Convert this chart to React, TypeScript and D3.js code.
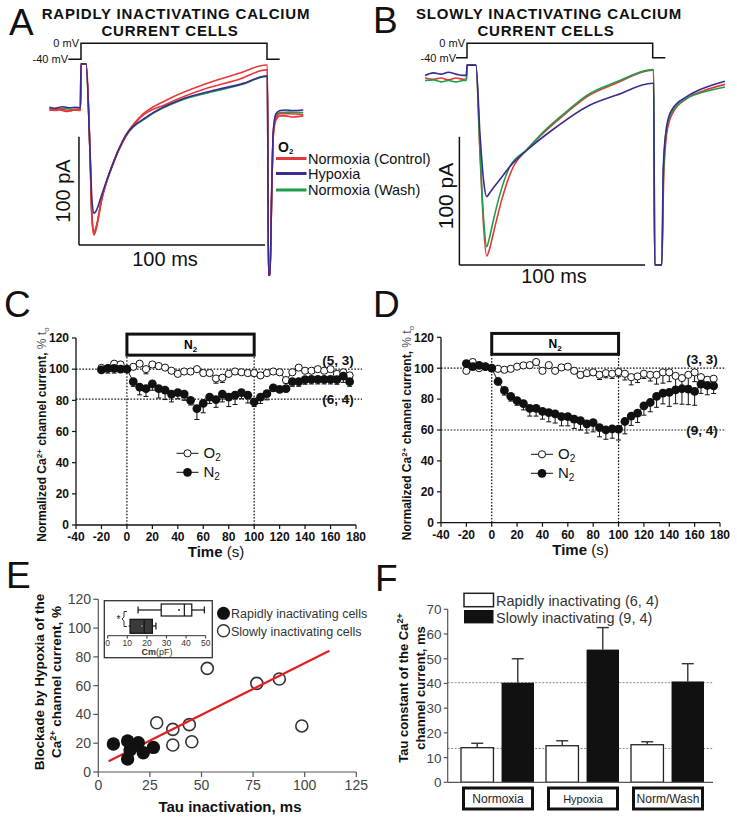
import React from 'react';
import * as d3 from 'd3';

const FONT = "'Liberation Sans', Arial, Helvetica, sans-serif";
const RED = '#e5383b';
const BLUE = '#3a2c8e';
const GREEN = '#1e9e4b';

// ---------- Panels A / B : voltage protocol (ms, mV) ----------
const protoA: [number, number][] = [[-6.8, -40], [0, -40], [0, 0], [100, 0], [100, -40], [106.8, -40]];
const protoB: [number, number][] = [[-5.9, -40], [0, -40], [0, 0], [100, 0], [100, -40], [106.8, -40]];

// ---------- Panel A traces (ms, pA) ----------
const traceA_red: [number, number][] = [[-17, -1], [-14, -2], [-10, -1], [-6, -2.5], [-3, -1], [-0.3, -1.5], [0, 41], [2.7, 41], [4.8, -38], [5.9, -103], [7, -117], [8.1, -112], [11.1, -85], [16.5, -54], [23.7, -26], [31.7, -8], [46.1, 7.7], [67.6, 23], [85.5, 32.6], [99.5, 40], [100.2, 40], [100.8, -154], [101.6, -154], [102.5, -82], [103.4, -25], [104.8, -11], [107, -7], [110, -7], [114, -8], [119.5, -7]];
const traceA_red2: [number, number][] = [[-17, -2], [-12, -1], [-8, -3], [-4, -1.5], [-0.3, -2], [0, 41], [2.7, 41], [4.8, -38], [5.9, -101], [7, -115], [8.1, -110], [11.1, -84], [16.5, -54], [23.7, -27], [31.7, -9], [46.1, 4], [67.6, 18.5], [85.5, 27], [99.5, 35.5], [100.2, 35.5], [100.8, -154], [101.6, -154], [102.5, -82], [103.4, -24], [104.8, -9], [107, -5], [112, -5], [119.5, -6]];
const traceA_green: [number, number][] = [[-17, 0], [-13, -1], [-9, 0], [-5, -1], [-0.3, -0.5], [0, 41], [2.7, 41], [4.8, -38], [5.9, -100], [7, -114], [8.1, -110], [11.1, -84], [16.5, -55], [23.7, -27], [35.3, -8.5], [53.2, 7], [70, 15], [87.3, 22.5], [99.5, 29.5], [100.2, 29.5], [100.8, -154], [101.6, -154], [102.5, -80], [103.4, -22], [104.8, -7], [107, -4], [112, -3.5], [119.5, -4]];
const traceA_blue: [number, number][] = [[-17, 1], [-14, 0], [-10, 1.5], [-6, 0.5], [-3, 1], [-0.3, 0.5], [0, 41], [2.7, 41], [4.8, -38], [5.9, -85], [7, -97], [8.1, -95], [11.1, -80], [16.5, -54], [23.7, -26], [35.3, -8], [53.2, 7.7], [70, 16], [87.3, 23], [99.5, 29.7], [100.2, 29.7], [100.8, -154], [101.6, -154], [102.5, -78], [103.4, -20], [104.8, -5], [107, -2], [110, -1.5], [114, -2], [119.5, -1.5]];

// ---------- Panel B traces (ms, pA) ----------
const traceB_red: [number, number][] = [[-22.6, -1], [-18, -2], [-14, -1], [-10, -2.5], [-6, -1], [-2, -2], [-0.3, -1.5], [0, 9], [4.8, 9], [7, -60], [9, -118], [10.6, -140], [12, -135], [14.2, -122], [18.7, -96], [25, -70], [32.1, -57], [41.1, -44], [53.7, -28], [64.5, -15.6], [80.6, -5], [100, 5], [100.5, 5], [101.1, -146.7], [104.9, -146.7], [105.9, -80], [107.5, -45], [110.2, -30], [118.3, -17], [127.3, -11], [138.9, -6]];
const traceB_green: [number, number][] = [[-22.6, -3], [-18, -2.5], [-14, -4], [-10, -3], [-6, -4], [-2, -3], [-0.3, -3], [0, 9], [4.8, 9], [7, -58], [9, -112], [10.6, -132.5], [12, -126], [14.2, -112], [16.9, -96], [23.1, -70], [32.1, -57], [41.1, -43], [53.7, -27], [64.5, -14.5], [80.6, -4], [100, 5.5], [100.5, 5.5], [101.1, -146.7], [104.9, -146.7], [105.8, -74], [107.5, -40], [110.2, -28], [118.3, -17], [127.3, -12], [138.9, -8]];
const traceB_blue: [number, number][] = [[-22.6, 1], [-18, 3], [-14, 2], [-10, 3.5], [-6, 2], [-2, 1], [-0.3, 1], [0, 9], [4.8, 9], [7, -45], [9, -82], [10.6, -93.5], [12, -91], [14, -87], [17.8, -80], [23.1, -70], [32.1, -57.5], [48.3, -39], [64.5, -23.4], [80.6, -14.3], [100, -5.1], [100.5, -5.1], [101.1, -146.7], [104.9, -146.7], [105.7, -70], [107.5, -39], [110.2, -26], [118.3, -15.6], [127.3, -9], [138.9, -3.5]];

// ---------- Panels C / D : time courses ----------
const timeS = [-20, -15, -10, -5, 0, 5, 10, 15, 20, 25, 30, 35, 40, 45, 50, 55, 60, 65, 70, 75, 80, 85, 90, 95, 100, 105, 110, 115, 120, 125, 130, 135, 140, 145, 150, 155, 160, 165, 170, 175];
const cO2 = [100.8, 100.5, 103.5, 103, 100, 101.5, 103.5, 100, 103, 102, 101, 99, 97, 98.5, 98.5, 100, 97.5, 97.5, 94, 94.5, 97, 98.5, 98, 97.5, 97.5, 96, 97.5, 98.5, 98, 93, 98, 101, 99, 99, 100, 99, 100, 97, 98, 96];
const cO2err = [1, 1, 1, 1, 1, 1, 1, 3, 1, 1, 1, 1, 1, 1, 1, 1, 1, 1, 3, 3, 1, 1, 1, 1, 2, 1, 1, 1, 1, 2, 1, 1, 1, 1, 1, 1, 1, 2, 2, 2];
const cN2 = [99.5, 100.5, 100.5, 100, 100, 92, 88.5, 87.5, 90.5, 87.5, 86.5, 84, 85, 84, 80, 74.7, 78, 82, 80.5, 84, 82, 83.3, 85, 83.3, 79, 82, 84.3, 88, 87, 87.5, 92, 92, 93.3, 93.5, 93.5, 93.5, 93.5, 93.3, 95.5, 92];
const cN2err = [1, 3, 3, 2, 1, 3, 5, 5, 4, 6, 6, 5, 4, 4, 3, 7, 6, 4, 5, 5, 6, 6, 4, 5, 3, 4, 4, 2, 2, 2, 3, 3, 3, 3, 3, 3, 3, 3, 4, 3];
const cRefs = [100, 80.8];
const cRefLabels = ['(5, 3)', '(6, 4)'];

const dO2 = [98.3, 104, 100, 101, 100, 99.6, 99, 99.6, 101, 101.8, 102, 104, 98.3, 102, 98.3, 100.5, 101, 98.3, 95.7, 96.8, 97.3, 95.7, 96.8, 96.4, 97.5, 96.4, 94.2, 94.7, 96.4, 95.7, 95.7, 97.3, 97.3, 95, 93.6, 95.7, 97.3, 94.2, 92.5, 93.2];
const dO2err = [1, 1, 1, 1, 1, 1, 1, 1, 1, 1, 1, 1, 1, 1, 1, 1, 1, 1, 2, 2, 2, 3, 3, 3, 3, 4, 5, 4, 3, 4, 6, 7, 6, 7, 8, 7, 6, 5, 4, 3];
const dN2 = [103, 101, 101.8, 101, 100, 91.4, 85.6, 81.7, 79, 77, 74, 74, 72, 71.3, 70.5, 68.7, 68.7, 67, 66, 64, 64.8, 61.6, 60, 60.7, 60.5, 65.5, 69, 70.9, 75.6, 77.8, 81.7, 83.9, 84.3, 86, 86.7, 86.4, 85, 89.7, 88.8, 88.6];
const dN2err = [1, 1, 1, 1, 1, 2, 3, 3, 3, 4, 5, 5, 5, 6, 6, 6, 6, 6, 6, 6, 6, 6, 6, 6, 7, 8, 6, 6, 6, 6, 7, 7, 9, 9, 10, 10, 9, 6, 6, 5];
const dRefs = [100, 60];
const dRefLabels = ['(3, 3)', '(9, 4)'];

const timeTicks = [-40, -20, 0, 20, 40, 60, 80, 100, 120, 140, 160, 180];
const pctTicks = [0, 20, 40, 60, 80, 100, 120];

// ---------- Panel E ----------
const rapidTau = [7.3, 14.2, 19.4, 15.4, 14.2, 21.8, 26.7, 17];
const rapidBlock = [19.5, 21.5, 20.4, 15.3, 9, 13.4, 17.1, 18];
const slowTau = [28.3, 36.1, 44.1, 36.1, 45.3, 98.6, 52.8, 76.8, 87.7];
const slowBlock = [34.2, 29.6, 32.9, 18.75, 21, 32, 72, 61.6, 64.6];
const fitTau = [5, 112];
const fitBlock = [7.4, 84.2];
const eXTicks = [0, 25, 50, 75, 100, 125];
const eYTicks = [0, 20, 40, 60, 80, 100, 120];
const cmSlow = [15.5, 27.3, 39.1, 42.9, 49.3]; // min q1 med q3 max
const cmRapid = [10.7, 11.4, 18.6, 22.8, 24.6];
const cmMeans = [36.4, 17.5];
const cmTicks = [0, 10, 20, 30, 40, 50];

// ---------- Panel F ----------
const fCats = ['Normoxia', 'Hypoxia', 'Norm/Wash'];
const fRapid = [14, 14.8, 15.2];
const fRapidErr = [1.8, 2, 1.2];
const fSlow = [40.3, 53.7, 40.8];
const fSlowErr = [9.7, 8.9, 7.2];
const fRefs = [40.3, 13.7];
const fTicks = [0, 10, 20, 30, 40, 50, 60, 70];

function Trace({ data, x, y, color, w = 1.6 }: any) {
  const line = d3.line<[number, number]>().x(d => x(d[0])).y(d => y(d[1])).curve(d3.curveMonotoneX);
  return <path d={line(data) || ''} fill="none" stroke={color} strokeWidth={w} strokeLinejoin="round" />;
}

function Protocol({ data, x, v }: any) {
  const line = d3.line<[number, number]>().x(d => x(d[0])).y(d => v(d[1]));
  return <path d={line(data) || ''} fill="none" stroke="#111" strokeWidth={1.5} />;
}

function TimeCourse({ x, y, o2, o2e, n2, n2e, refs, refLabels, legX, legY, yLabelX }: any) {
  const [x0, x1] = x.range();
  const [yb] = y.range();
  const lineO = d3.line<number>().x((_, i) => x(timeS[i])).y(d => y(d));
  const refEnd = x1 + 6;
  const labelX = x1 - 18;
  return (
    <g fontFamily={FONT}>
      {refs.map((r: number, i: number) => (
        <line key={'r' + i} x1={x0} x2={refEnd} y1={y(r)} y2={y(r)} stroke="#111" strokeWidth={1.2} strokeDasharray="1.6,1.6" />
      ))}
      {[0, 100].map(t => (
        <line key={'v' + t} x1={x(t)} x2={x(t)} y1={yb} y2={y(109)} stroke="#111" strokeWidth={1.2} strokeDasharray="1.6,1.6" />
      ))}
      <rect x={x(0)} y={y(122.5)} width={x(100) - x(0)} height={y(109) - y(122.5)} fill="white" stroke="#111" strokeWidth={3} />
      <text x={(x(0) + x(100)) / 2} y={y(115.75) + 4} textAnchor="middle" fontSize={12} fontWeight="bold">N<tspan fontSize={8} dy={3}>2</tspan></text>
      {refLabels.map((s: string, i: number) => (
        <text key={'rl' + i} x={labelX} y={y(refs[i]) + (i === 0 ? -4 : 5)} textAnchor="middle" fontSize={13.5} fontWeight="bold" fill="#111">{s}</text>
      ))}
      <line x1={x0} x2={x1} y1={yb} y2={yb} stroke="#111" strokeWidth={1.3} />
      <line x1={x0} x2={x0} y1={yb} y2={y(120)} stroke="#111" strokeWidth={1.3} />
      {timeTicks.map(t => (
        <g key={'xt' + t}>
          <line x1={x(t)} x2={x(t)} y1={yb} y2={yb + 4} stroke="#111" strokeWidth={1.2} />
          <text x={x(t)} y={yb + 16} textAnchor="middle" fontSize={12} fontWeight="bold" fill="#111">{t}</text>
        </g>
      ))}
      {pctTicks.map(t => (
        <g key={'yt' + t}>
          <line x1={x0 - 4} x2={x0} y1={y(t)} y2={y(t)} stroke="#111" strokeWidth={1.2} />
          <text x={x0 - 7} y={y(t) + 4.3} textAnchor="end" fontSize={12} fontWeight="bold" fill="#111">{t}</text>
        </g>
      ))}
      <text x={(x0 + x1) / 2} y={yb + 32} textAnchor="middle" fontSize={15} fill="#111"><tspan fontWeight="bold">Time</tspan> (s)</text>
      <text transform={`translate(${yLabelX},${(y(0) + y(120)) / 2 + 3}) rotate(-90)`} textAnchor="middle" fontSize={12} fill="#111">
        <tspan fontWeight="bold">Normalized Ca</tspan><tspan fontWeight="bold" fontSize={8} dy={-4}>2+</tspan><tspan fontWeight="bold" dy={4}> channel  current, </tspan><tspan fill="#555">% t</tspan><tspan fill="#555" fontSize={8} dy={3}>o</tspan>
      </text>
      <path d={lineO(o2) || ''} fill="none" stroke="#111" strokeWidth={1} />
      {o2.map((v: number, i: number) => (
        <g key={'oe' + i}>
          <line x1={x(timeS[i])} x2={x(timeS[i])} y1={y(v)} y2={y(v - o2e[i])} stroke="#111" strokeWidth={1} />
          <line x1={x(timeS[i]) - 2.5} x2={x(timeS[i]) + 2.5} y1={y(v - o2e[i])} y2={y(v - o2e[i])} stroke="#111" strokeWidth={1} />
        </g>
      ))}
      <path d={lineO(n2) || ''} fill="none" stroke="#111" strokeWidth={1} />
      {n2.map((v: number, i: number) => (
        <g key={'ne' + i}>
          <line x1={x(timeS[i])} x2={x(timeS[i])} y1={y(v)} y2={y(v - n2e[i])} stroke="#111" strokeWidth={1} />
          <line x1={x(timeS[i]) - 2.5} x2={x(timeS[i]) + 2.5} y1={y(v - n2e[i])} y2={y(v - n2e[i])} stroke="#111" strokeWidth={1} />
        </g>
      ))}
      {o2.map((v: number, i: number) => (
        <circle key={'oc' + i} cx={x(timeS[i])} cy={y(v)} r={3.6} fill="white" stroke="#111" strokeWidth={1} />
      ))}
      {n2.map((v: number, i: number) => (
        <circle key={'nc' + i} cx={x(timeS[i])} cy={y(v)} r={4.4} fill="#111" />
      ))}
      <line x1={legX} x2={legX + 22} y1={legY} y2={legY} stroke="#111" strokeWidth={1} />
      <circle cx={legX + 11} cy={legY} r={3.6} fill="white" stroke="#111" />
      <text x={legX + 27} y={legY + 5} fontSize={15} fill="#111">O<tspan fontSize={10} dy={3}>2</tspan></text>
      <line x1={legX} x2={legX + 22} y1={legY + 19} y2={legY + 19} stroke="#111" strokeWidth={1} />
      <circle cx={legX + 11} cy={legY + 19} r={4.4} fill="#111" />
      <text x={legX + 27} y={legY + 24} fontSize={15} fill="#111">N<tspan fontSize={10} dy={3}>2</tspan></text>
    </g>
  );
}

export default function App() {
  const xA = d3.scaleLinear().domain([0, 100]).range([81, 267]);
  const yA = d3.scaleLinear().domain([0, -100]).range([108.3, 216.6]);
  const vA = d3.scaleLinear().domain([-40, 0]).range([59.3, 43.3]);
  const xB = d3.scaleLinear().domain([0, 100]).range([467, 652.7]);
  const yB = d3.scaleLinear().domain([0, -100]).range([76.7, 205]);
  const vB = d3.scaleLinear().domain([-40, 0]).range([57.7, 43.3]);

  const xC = d3.scaleLinear().domain([-40, 180]).range([76, 356]);
  const yC = d3.scaleLinear().domain([0, 120]).range([525, 338]);
  const xD = d3.scaleLinear().domain([-40, 180]).range([441, 720]);
  const yD = d3.scaleLinear().domain([0, 120]).range([522.7, 337.3]);

  const xE = d3.scaleLinear().domain([0, 125]).range([98.3, 356.3]);
  const yE = d3.scaleLinear().domain([0, 120]).range([772, 599.3]);
  const xIn = d3.scaleLinear().domain([0, 50]).range([107.7, 205.7]);

  const yF = d3.scaleLinear().domain([0, 70]).range([782.3, 609.3]);
  const xF = d3.scaleBand<string>().domain(fCats).range([455, 710]);
  const xFi = d3.scaleBand<string>().domain(['rapid', 'slow']).range([0, 73]).paddingInner(0.2);
  const fOff = (xF.bandwidth() - 73) / 2;

  const axisGray = '#555';

  return (
    <svg width={737} height={819} viewBox="0 0 737 819" style={{ position: 'absolute', left: 0, top: 0, background: 'white' }} fontFamily={FONT}>
      <rect width={737} height={819} fill="white" />

      <text x={9} y={35} fontSize={37} fill="#111">A</text>
      <text x={373} y={33} fontSize={37} fill="#111">B</text>
      <text x={4} y={317} fontSize={37} fill="#111">C</text>
      <text x={373} y={317} fontSize={37} fill="#111">D</text>
      <text x={6} y={588} fontSize={37} fill="#111">E</text>
      <text x={375} y={591} fontSize={37} fill="#111">F</text>

      <text x={176} y={18.5} textAnchor="middle" fontSize={15} letterSpacing={0.8} fontWeight="bold" fill="#111">RAPIDLY INACTIVATING CALCIUM</text>
      <text x={170} y={35.5} textAnchor="middle" fontSize={15} letterSpacing={0.8} fontWeight="bold" fill="#111">CURRENT CELLS</text>
      <text x={549} y={18.5} textAnchor="middle" fontSize={15} letterSpacing={0.8} fontWeight="bold" fill="#111">SLOWLY INACTIVATING CALCIUM</text>
      <text x={546} y={35.5} textAnchor="middle" fontSize={15} letterSpacing={0.8} fontWeight="bold" fill="#111">CURRENT CELLS</text>

      {/* Panel A */}
      <Protocol data={protoA} x={xA} v={vA} />
      <text x={79} y={47} textAnchor="end" fontSize={11} fill="#111">0 mV</text>
      <text x={68} y={63} textAnchor="end" fontSize={11} fill="#111">-40 mV</text>
      <Trace data={traceA_green} x={xA} y={yA} color={GREEN} />
      <Trace data={traceA_red2} x={xA} y={yA} color={RED} />
      <Trace data={traceA_red} x={xA} y={yA} color={RED} />
      <Trace data={traceA_blue} x={xA} y={yA} color={BLUE} />
      <line x1={xA(-1.1)} x2={xA(-1.1)} y1={yA(-26.2)} y2={yA(-126.2)} stroke="#111" strokeWidth={1.5} />
      <line x1={xA(-1.1)} x2={xA(98.9)} y1={yA(-126.2)} y2={yA(-126.2)} stroke="#111" strokeWidth={1.5} />
      <text transform={`translate(70,191) rotate(-90)`} textAnchor="middle" fontSize={20} fill="#111">100 pA</text>
      <text x={165} y={266} textAnchor="middle" fontSize={20} fill="#111">100 ms</text>
      <text x={278} y={151.5} fontSize={14} fontWeight="bold" fill="#111">O<tspan fontSize={8} dy={2}>2</tspan></text>
      {[[RED, 'Normoxia (Control)', 158.5], [BLUE, 'Hypoxia', 173.5], [GREEN, 'Normoxia (Wash)', 190]].map(([c, s, yy]: any) => (
        <g key={s}>
          <line x1={276} x2={306.5} y1={yy} y2={yy} stroke={c} strokeWidth={3} />
          <text x={308} y={yy + 5} fontSize={14.5} fill="#111">{s}</text>
        </g>
      ))}

      {/* Panel B */}
      <Protocol data={protoB} x={xB} v={vB} />
      <text x={465} y={47} textAnchor="end" fontSize={11} fill="#111">0 mV</text>
      <text x={456} y={61.5} textAnchor="end" fontSize={11} fill="#111">-40 mV</text>
      <Trace data={traceB_red} x={xB} y={yB} color={RED} />
      <Trace data={traceB_green} x={xB} y={yB} color={GREEN} />
      <Trace data={traceB_blue} x={xB} y={yB} color={BLUE} />
      <line x1={xB(-4.1)} x2={xB(-4.1)} y1={yB(-46.8)} y2={yB(-146.8)} stroke="#111" strokeWidth={1.5} />
      <line x1={xB(-4.1)} x2={xB(95.9)} y1={yB(-146.8)} y2={yB(-146.8)} stroke="#111" strokeWidth={1.5} />
      <text transform={`translate(453,196) rotate(-90)`} textAnchor="middle" fontSize={21} fill="#111">100 pA</text>
      <text x={554} y={283} textAnchor="middle" fontSize={20} fill="#111">100 ms</text>

      {/* Panels C / D */}
      <TimeCourse x={xC} y={yC} o2={cO2} o2e={cO2err} n2={cN2} n2e={cN2err} refs={cRefs} refLabels={cRefLabels} legX={176.5} legY={453.3} yLabelX={46} />
      <TimeCourse x={xD} y={yD} o2={dO2} o2e={dO2err} n2={dN2} n2e={dN2err} refs={dRefs} refLabels={dRefLabels} legX={531} legY={454.3} yLabelX={411} />

      {/* Panel E */}
      <g>
        <line x1={98.3} x2={356.3} y1={772} y2={772} stroke={axisGray} strokeWidth={1.2} />
        <line x1={98.3} x2={98.3} y1={772} y2={599.3} stroke={axisGray} strokeWidth={1.2} />
        {eXTicks.map(t => (
          <g key={'ex' + t}>
            <line x1={xE(t)} x2={xE(t)} y1={772} y2={777} stroke={axisGray} strokeWidth={1.2} />
            <text x={xE(t)} y={790} textAnchor="middle" fontSize={14} fill="#444">{t}</text>
          </g>
        ))}
        {eYTicks.map(t => (
          <g key={'ey' + t}>
            <line x1={93.3} x2={98.3} y1={yE(t)} y2={yE(t)} stroke={axisGray} strokeWidth={1.2} />
            <text x={91} y={yE(t) + 5} textAnchor="end" fontSize={14} fill="#444">{t}</text>
          </g>
        ))}
        <text x={230} y={812} textAnchor="middle" fontSize={15} fontWeight="bold" fill="#111">Tau inactivation, ms</text>
        <text transform="translate(44,682) rotate(-90)" textAnchor="middle" fontSize={13.5} fontWeight="bold" fill="#111">Blockade by Hypoxia of the</text>
        <text transform="translate(61,682) rotate(-90)" textAnchor="middle" fontSize={13.5} fontWeight="bold" fill="#111">Ca<tspan fontSize={9} dy={-5}>2+</tspan><tspan dy={5}> channel current, %</tspan></text>
        {slowTau.map((t, i) => (
          <circle key={'s' + i} cx={xE(t)} cy={yE(slowBlock[i])} r={6} fill="white" stroke="#333" strokeWidth={1.6} />
        ))}
        <line x1={xE(fitTau[0])} x2={xE(fitTau[1])} y1={yE(fitBlock[0])} y2={yE(fitBlock[1])} stroke="#e3201e" strokeWidth={2.2} />
        {rapidTau.map((t, i) => (
          <circle key={'f' + i} cx={xE(t)} cy={yE(rapidBlock[i])} r={6.7} fill="#111" />
        ))}
        <circle cx={223.5} cy={613.3} r={6.5} fill="#111" />
        <text x={231} y={618} fontSize={12.5} fill="#333">Rapidly inactivating cells</text>
        <circle cx={223.5} cy={630.7} r={6} fill="white" stroke="#333" strokeWidth={1.4} />
        <text x={231} y={635.5} fontSize={12.5} fill="#333">Slowly inactivating cells</text>
        <rect x={104.3} y={600.7} width={108} height={57} fill="white" stroke="#333" strokeWidth={1.3} />
        <line x1={xIn(0)} x2={xIn(50)} y1={635.7} y2={635.7} stroke="#333" strokeWidth={1} />
        {cmTicks.map(t => (
          <g key={'ct' + t}>
            <line x1={xIn(t)} x2={xIn(t)} y1={635.7} y2={638.5} stroke="#333" strokeWidth={1} />
            <text x={xIn(t)} y={645.5} textAnchor="middle" fontSize={8.5} fill="#333">{t}</text>
          </g>
        ))}
        <text x={157} y={654.5} textAnchor="middle" fontSize={9} fill="#333"><tspan fontWeight="bold">Cm</tspan>(pF)</text>
        <line x1={xIn(cmSlow[0])} x2={xIn(cmSlow[1])} y1={610} y2={610} stroke="#111" strokeWidth={1.2} />
        <line x1={xIn(cmSlow[3])} x2={xIn(cmSlow[4])} y1={610} y2={610} stroke="#111" strokeWidth={1.2} />
        <line x1={xIn(cmSlow[0])} x2={xIn(cmSlow[0])} y1={606.5} y2={613.5} stroke="#111" strokeWidth={1.2} />
        <line x1={xIn(cmSlow[4])} x2={xIn(cmSlow[4])} y1={606.5} y2={613.5} stroke="#111" strokeWidth={1.2} />
        <rect x={xIn(cmSlow[1])} y={604} width={xIn(cmSlow[3]) - xIn(cmSlow[1])} height={12} fill="white" stroke="#111" strokeWidth={1.2} />
        <line x1={xIn(cmSlow[2])} x2={xIn(cmSlow[2])} y1={604} y2={616} stroke="#111" strokeWidth={1.2} />
        <circle cx={xIn(cmMeans[0])} cy={610} r={0.9} fill="#111" />
        <line x1={xIn(cmRapid[0])} x2={xIn(cmRapid[4])} y1={626} y2={626} stroke="#111" strokeWidth={1.2} />
        <line x1={xIn(cmRapid[4])} x2={xIn(cmRapid[4])} y1={622.5} y2={629.5} stroke="#111" strokeWidth={1.2} />
        <rect x={xIn(cmRapid[1])} y={619.3} width={xIn(cmRapid[3]) - xIn(cmRapid[1])} height={14} fill="#3a3a3a" stroke="#111" strokeWidth={1.2} />
        <line x1={xIn(cmRapid[2])} x2={xIn(cmRapid[2])} y1={619.3} y2={633.3} stroke="#111" strokeWidth={1.2} />
        <circle cx={xIn(cmMeans[1])} cy={626} r={0.9} fill="#888" />
        <path d="M127,611.5 L124,611.5 L124,617 L122,619 L124,621 L124,626.5 L127,626.5" fill="none" stroke="#333" strokeWidth={1} />
        <text x={118.5} y={622.5} textAnchor="middle" fontSize={10} fill="#111">*</text>
      </g>

      {/* Panel F */}
      <g>
        {fRefs.map((r, i) => (
          <line key={'fr' + i} x1={447.7} x2={713} y1={yF(r)} y2={yF(r)} stroke="#888" strokeWidth={1} strokeDasharray="2,1.5" />
        ))}
        {fCats.map((c, i) => {
          const gx = (xF(c) || 0) + fOff;
          const rx = gx + (xFi('rapid') || 0);
          const sx = gx + (xFi('slow') || 0);
          const bw = xFi.bandwidth();
          return (
            <g key={c}>
              <line x1={rx + bw / 2} x2={rx + bw / 2} y1={yF(fRapid[i])} y2={yF(fRapid[i] + fRapidErr[i])} stroke="#333" strokeWidth={1.4} />
              <line x1={rx + bw / 2 - 6} x2={rx + bw / 2 + 6} y1={yF(fRapid[i] + fRapidErr[i])} y2={yF(fRapid[i] + fRapidErr[i])} stroke="#333" strokeWidth={1.4} />
              <rect x={rx} y={yF(fRapid[i])} width={bw} height={yF(0) - yF(fRapid[i])} fill="white" stroke="#222" strokeWidth={1.3} />
              <line x1={sx + bw / 2} x2={sx + bw / 2} y1={yF(fSlow[i])} y2={yF(fSlow[i] + fSlowErr[i])} stroke="#333" strokeWidth={1.4} />
              <line x1={sx + bw / 2 - 6} x2={sx + bw / 2 + 6} y1={yF(fSlow[i] + fSlowErr[i])} y2={yF(fSlow[i] + fSlowErr[i])} stroke="#333" strokeWidth={1.4} />
              <rect x={sx} y={yF(fSlow[i])} width={bw} height={yF(0) - yF(fSlow[i])} fill="#111" />
              <rect x={gx + 2.5} y={788} width={69} height={21} fill="white" stroke="#111" strokeWidth={3} />
              <text x={gx + 37} y={803} textAnchor="middle" fontSize={i === 1 ? 11 : 12} fill="#222">{c}</text>
            </g>
          );
        })}
        <line x1={447.7} x2={713} y1={782.3} y2={782.3} stroke={axisGray} strokeWidth={1.2} />
        <line x1={447.7} x2={447.7} y1={782.3} y2={609.3} stroke={axisGray} strokeWidth={1.2} />
        {fTicks.map(t => (
          <g key={'ft' + t}>
            <line x1={443.7} x2={447.7} y1={yF(t)} y2={yF(t)} stroke={axisGray} strokeWidth={1.2} />
            <text x={441.5} y={yF(t) + 5} textAnchor="end" fontSize={13.5} fill="#444">{t}</text>
          </g>
        ))}
        <text transform="translate(408,688) rotate(-90)" textAnchor="middle" fontSize={13} fontWeight="bold" fill="#111">Tau constant of the Ca<tspan fontSize={9} dy={-5}>2+</tspan></text>
        <text transform="translate(424.5,688) rotate(-90)" textAnchor="middle" fontSize={13} fontWeight="bold" fill="#111">channel current, ms</text>
        <rect x={464} y={593.3} width={29.5} height={13.4} fill="white" stroke="#222" strokeWidth={1.5} />
        <rect x={464} y={610} width={29.5} height={13.4} fill="#111" />
        <text x={496} y={605.5} fontSize={14.5} fill="#333">Rapidly inactivating (6, 4)</text>
        <text x={496} y={622.5} fontSize={14.5} fill="#333">Slowly inactivating (9, 4)</text>
      </g>
    </svg>
  );
}
